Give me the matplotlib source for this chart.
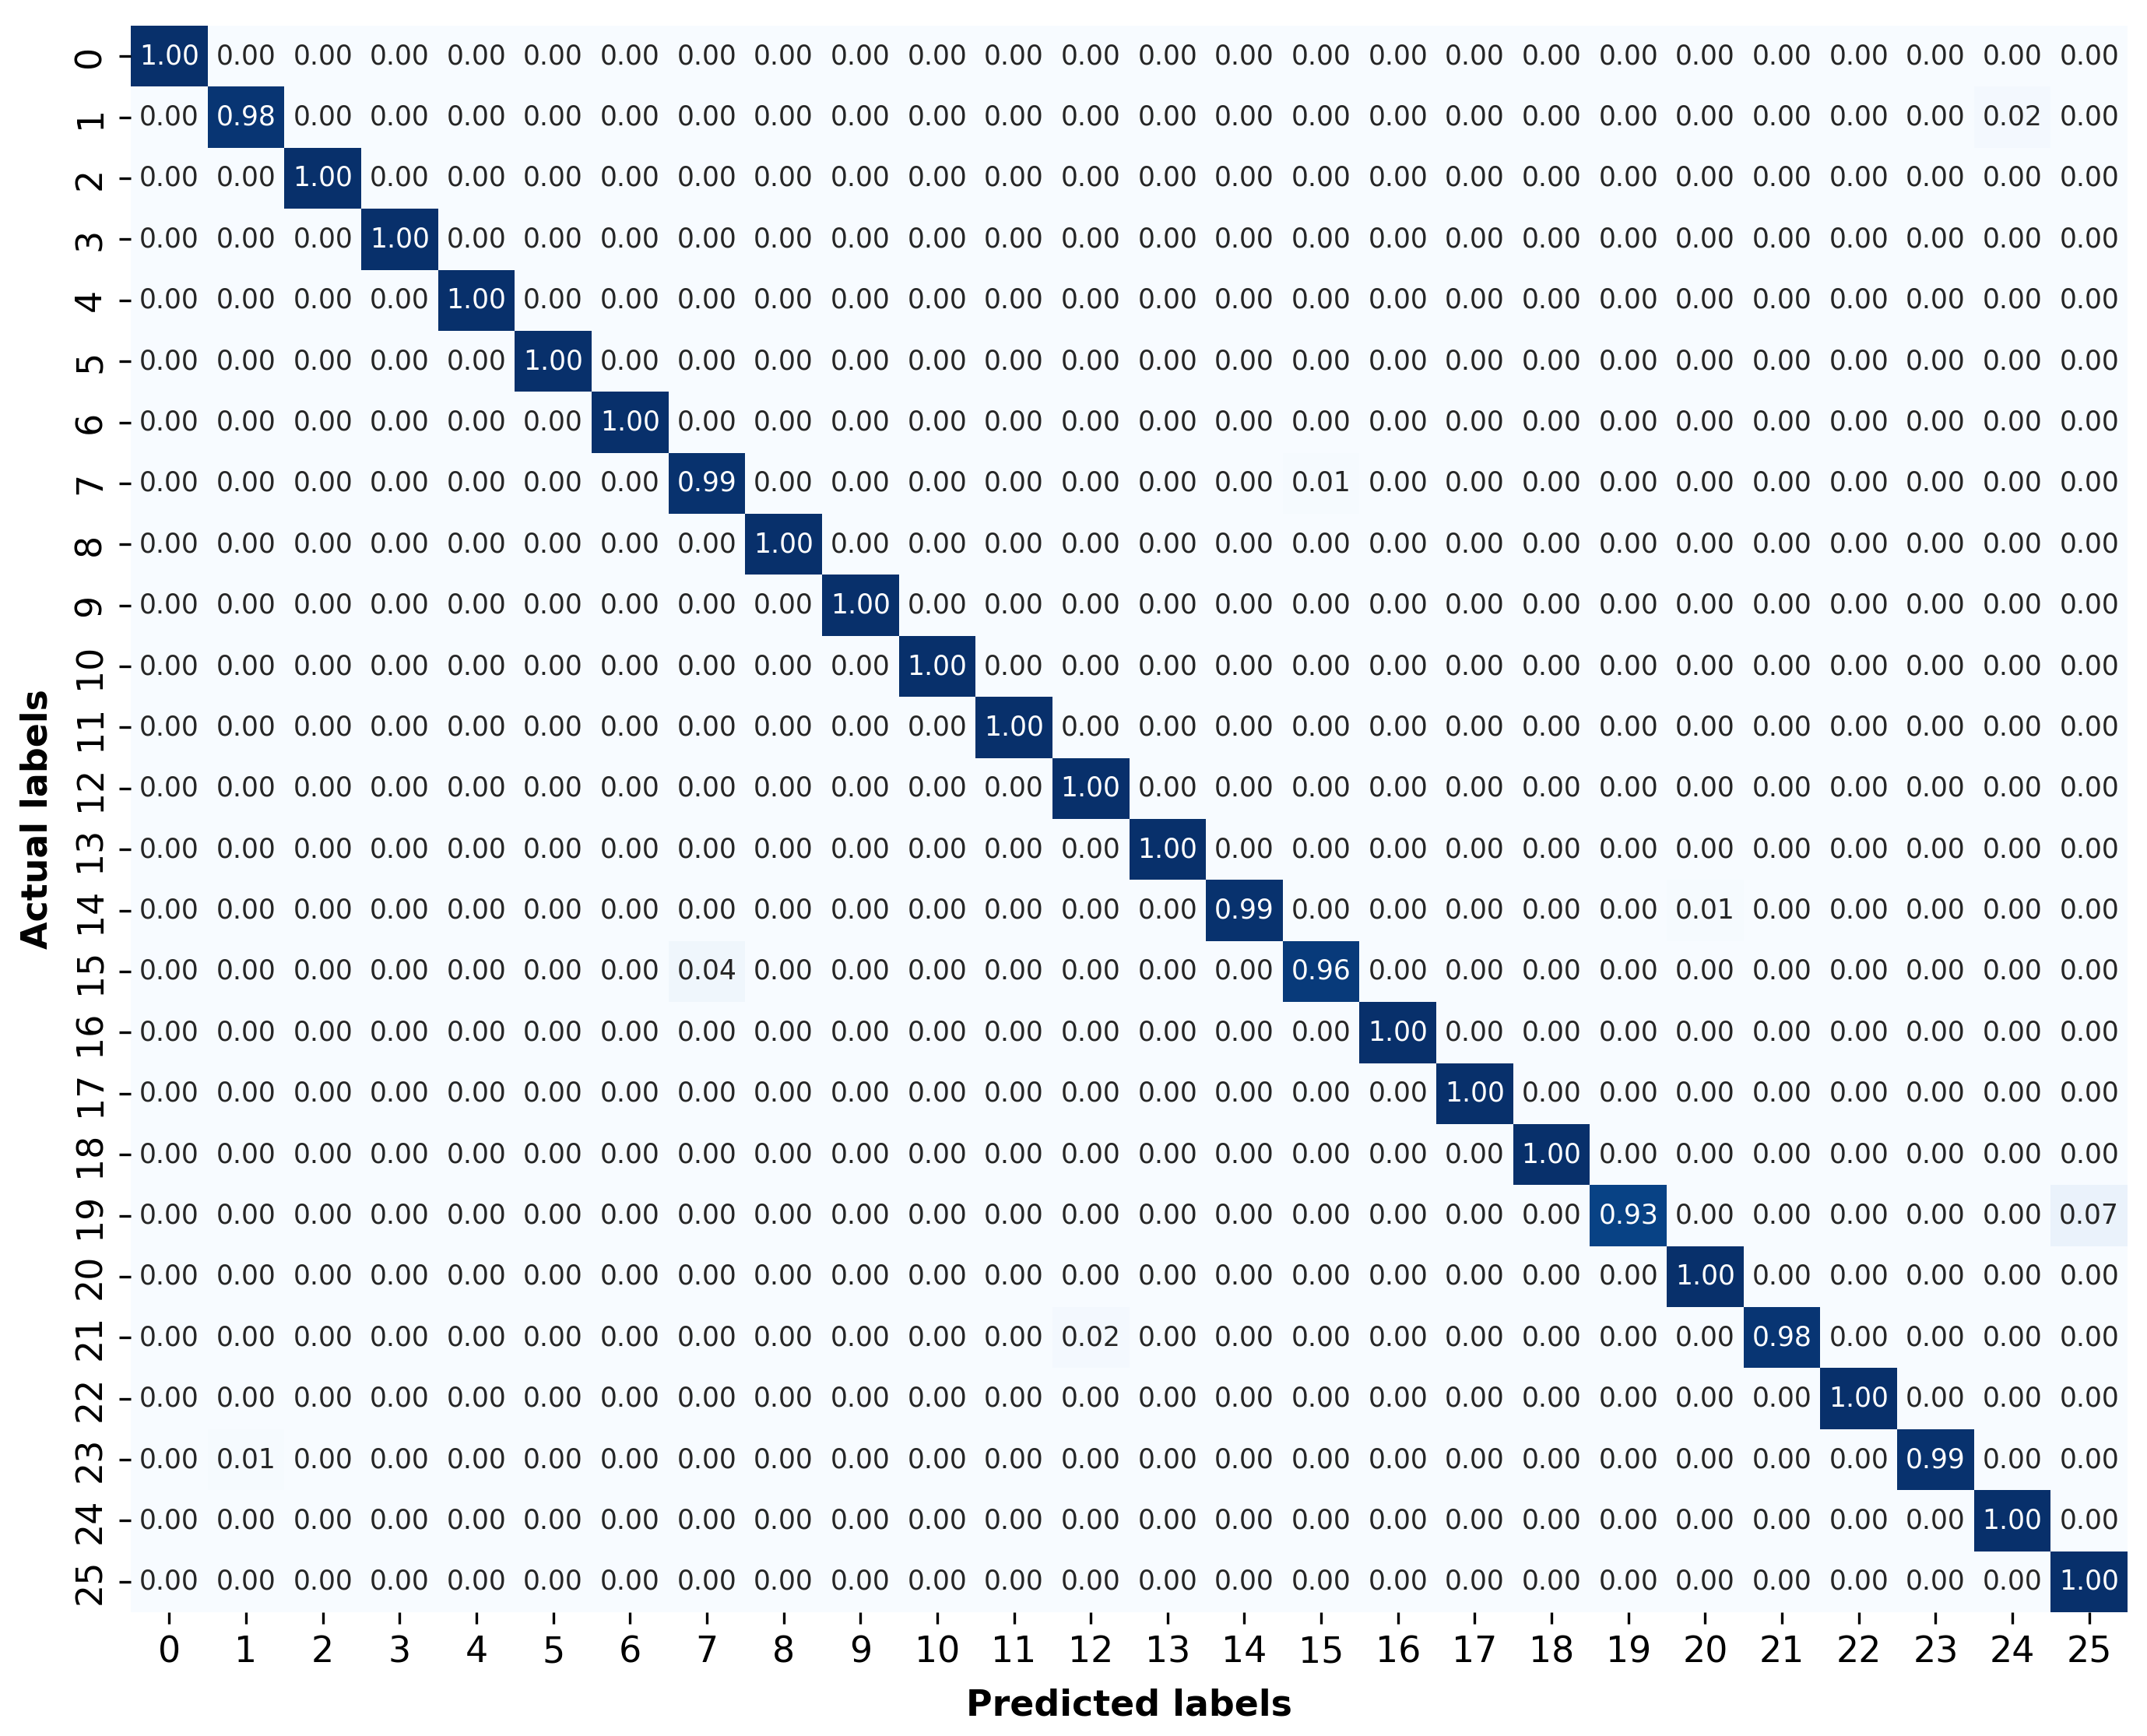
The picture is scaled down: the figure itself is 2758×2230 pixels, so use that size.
import numpy as np
import matplotlib
matplotlib.use("Agg")
import matplotlib.pyplot as plt
import seaborn as sns

# Class labels
classes = [str(i) for i in range(26)]

# Diagonal (correct-class) rates per actual label
diag_values = [1.00, 0.98, 1.00, 1.00, 1.00, 1.00, 1.00, 0.99, 1.00, 1.00,
               1.00, 1.00, 1.00, 1.00, 0.99, 0.96, 1.00, 1.00, 1.00, 0.93,
               1.00, 0.98, 1.00, 0.99, 1.00, 1.00]

# Off-diagonal confusions: actual label, predicted label, rate
off_actual = [1, 7, 14, 15, 19, 21, 23]
off_pred = [24, 15, 20, 7, 25, 12, 1]
off_values = [0.02, 0.01, 0.01, 0.04, 0.07, 0.02, 0.01]

n = len(classes)
cm = np.zeros((n, n))
cm[np.arange(n), np.arange(n)] = diag_values
cm[off_actual, off_pred] = off_values

fig = plt.figure(figsize=(2758 / 300, 2230 / 300), dpi=300)
ax = fig.add_axes([168 / 2758, 1 - 2071 / 2230, (2733 - 168) / 2758, (2071 - 33) / 2230])

sns.heatmap(cm, annot=True, fmt=".2f", cmap="Blues", vmin=0, vmax=1, cbar=False,
            xticklabels=classes, yticklabels=classes, annot_kws={"size": 8.3}, ax=ax)

ax.set_xlabel("Predicted labels", fontsize=11, fontweight="bold", labelpad=5.5)
ax.set_ylabel("Actual labels", fontsize=11, fontweight="bold", labelpad=5.5)
ax.tick_params(axis="both", labelsize=11)
plt.setp(ax.get_yticklabels(), rotation=90, va="center")
plt.setp(ax.get_xticklabels(), rotation=0)

fig.savefig("out.png", dpi=300)
